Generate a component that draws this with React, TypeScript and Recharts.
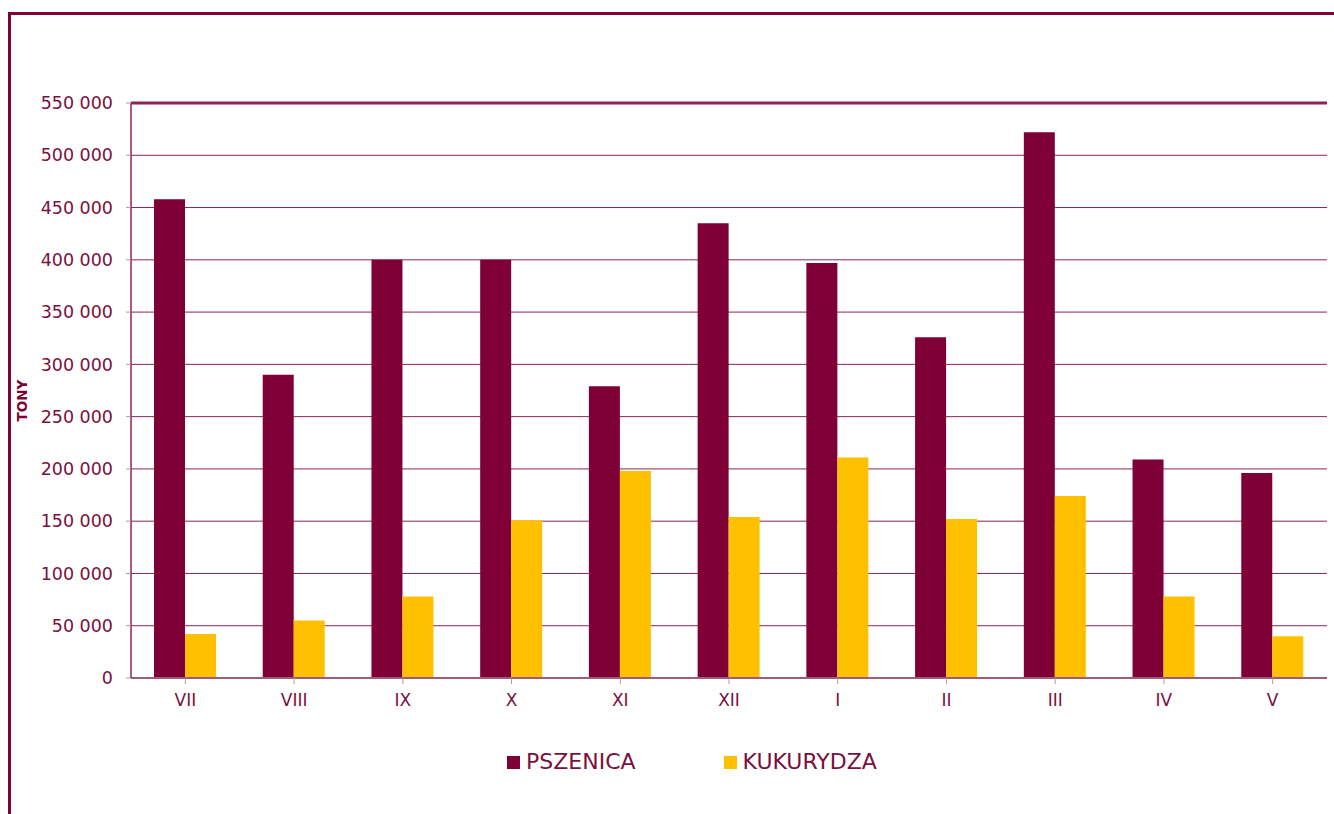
import { Bar, BarChart, CartesianGrid, ReferenceLine, XAxis, YAxis } from "recharts";

const months = ["VII", "VIII", "IX", "X", "XI", "XII", "I", "II", "III", "IV", "V"];
const pszenica = [458000, 290000, 400000, 400000, 279000, 435000, 397000, 326000, 522000, 209000, 196000];
const kukurydza = [42000, 55000, 78000, 151000, 198000, 154000, 211000, 152000, 174000, 78000, 40000];
const yTicks = [0, 50000, 100000, 150000, 200000, 250000, 300000, 350000, 400000, 450000, 500000, 550000];

const MAROON = "#7f0037";
const YELLOW = "#ffc000";
const TEXT = "#7a1040";
const FONT = "'DejaVu Sans', Verdana, sans-serif";

const series = [
  { key: "pszenica", name: "PSZENICA", color: MAROON },
  { key: "kukurydza", name: "KUKURYDZA", color: YELLOW },
];

const data = months.map((m, i) => ({ month: m, pszenica: pszenica[i], kukurydza: kukurydza[i] }));

const fmt = (v: number) => v.toString().replace(/\B(?=(\d{3})+(?!\d))/g, " ");

// rotated axis title, placed a bit below the plot's vertical centre like the original
function renderAxisTitle(props: { viewBox?: { x: number; y: number; height: number } }) {
  const vb = props.viewBox;
  if (!vb) return null;
  const cx = vb.x + 11;
  const cy = vb.y + vb.height / 2 + 10;
  return (
    <text
      x={cx}
      y={cy}
      transform={`rotate(-90, ${cx}, ${cy})`}
      textAnchor="middle"
      dominantBaseline="central"
      fill={MAROON}
      fontSize={13.5}
      fontWeight="bold"
      fontFamily={FONT}
    >
      TONY
    </text>
  );
}

export default function App() {
  return (
    <div style={{ position: "absolute", left: 0, top: 0, width: 1334, height: 814, overflow: "hidden", background: "#fff", fontFamily: FONT }}>
      <div
        style={{
          position: "absolute",
          left: 8,
          top: 12,
          width: 1340,
          height: 820,
          border: `3px solid ${MAROON}`,
          boxSizing: "border-box",
        }}
      />
      <div style={{ position: "absolute", left: 0, top: 0 }}>
        <BarChart
          width={1334}
          height={814}
          data={data}
          margin={{ top: 103, right: 7, left: 11, bottom: 106 }}
          barCategoryGap={23}
          barGap={0}
        >
          <CartesianGrid vertical={false} stroke="#8c2457" strokeWidth={1} />
          <XAxis
            dataKey="month"
            height={30}
            interval={0}
            tickLine={{ stroke: "#a0a0a0" }}
            tickSize={6}
            tickMargin={10}
            axisLine={{ stroke: "#a05a7c", strokeWidth: 2 }}
            tick={{ fill: TEXT, fontSize: 17, fontFamily: FONT }}
          />
          <YAxis
            width={120}
            domain={[0, 550000]}
            ticks={yTicks}
            interval={0}
            tickFormatter={fmt}
            tickSize={5}
            tickMargin={13}
            tickLine={{ stroke: "#a0a0a0" }}
            axisLine={{ stroke: "#8c2457", strokeWidth: 1.5 }}
            tick={{ fill: TEXT, fontSize: 17.5, fontFamily: FONT }}
            label={{ value: "TONY", content: renderAxisTitle }}
          />
          <YAxis
            yAxisId="right"
            orientation="right"
            width={0}
            tick={false}
            tickLine={false}
            axisLine={{ stroke: "#8c2457", strokeWidth: 2 }}
          />
          <ReferenceLine y={550000} stroke="#8c2457" strokeWidth={3} />
          {series.map((s) => (
            <Bar key={s.key} dataKey={s.key} name={s.name} fill={s.color} isAnimationActive={false} />
          ))}
        </BarChart>
      </div>
      <div style={{ position: "absolute", left: 507, top: 749, display: "flex", alignItems: "center", fontSize: 22, color: TEXT, lineHeight: "26px" }}>
        {series.map((s, i) => (
          <div key={s.key} style={{ display: "flex", alignItems: "center", marginLeft: i === 0 ? 0 : 88 }}>
            <div style={{ width: 13, height: 13, background: s.color, marginRight: 6 }} />
            <span>{s.name}</span>
          </div>
        ))}
      </div>
    </div>
  );
}
